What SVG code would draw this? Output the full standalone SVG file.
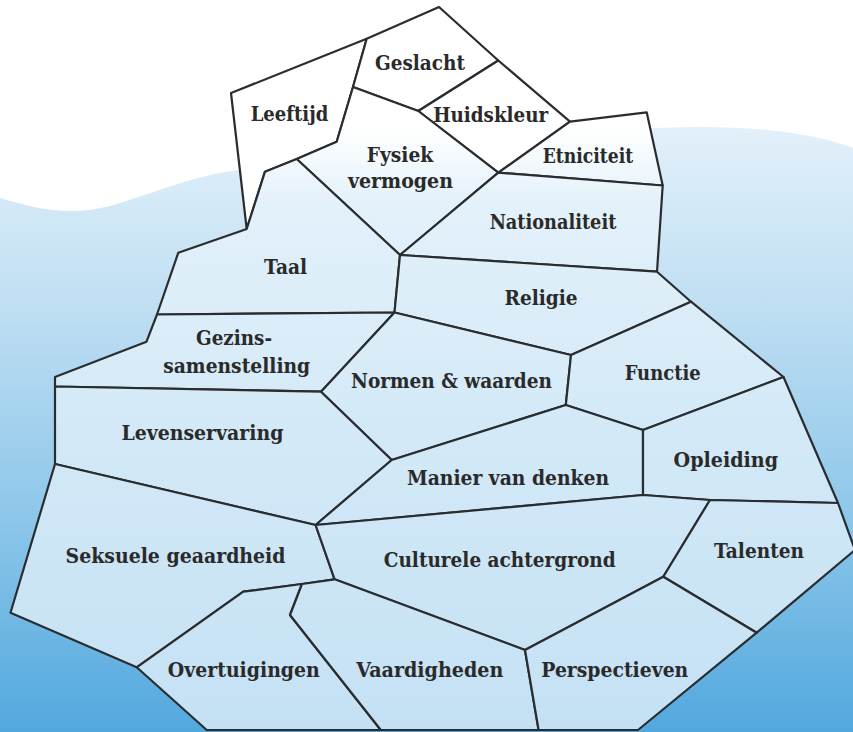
<svg xmlns="http://www.w3.org/2000/svg" width="853" height="732" viewBox="0 0 853 732">
<defs>
<linearGradient id="water" x1="0" y1="130" x2="0" y2="732" gradientUnits="userSpaceOnUse">
<stop offset="0" stop-color="#e2f0fa"/>
<stop offset="0.3" stop-color="#bedef2"/>
<stop offset="0.65" stop-color="#8cc6ea"/>
<stop offset="1" stop-color="#52a8de"/>
</linearGradient>
<linearGradient id="ice" x1="0" y1="130" x2="0" y2="732" gradientUnits="userSpaceOnUse">
<stop offset="0" stop-color="#ffffff"/>
<stop offset="0.12" stop-color="#e3f1fa"/>
<stop offset="0.5" stop-color="#d3e9f7"/>
<stop offset="1" stop-color="#c4e1f4"/>
</linearGradient>
<style>
.r{fill:url(#ice);stroke:#2a2d30;stroke-width:2.2;stroke-linejoin:round}
.w{fill:#ffffff}
text{font-family:"DejaVu Serif Condensed","DejaVu Serif",serif;font-weight:bold;font-size:19.5px;fill:#2a2a2a;text-anchor:middle}
</style>
</defs>
<rect width="853" height="732" fill="#ffffff"/>
<path d="M0,198 C40,210 70,216 110,206 C160,192 200,171 260,168 L640,129 C720,124 800,128 853,148 V732 H0 Z" fill="url(#water)"/>
<g id="connectors"></g>
<g id="leeftijd"><polygon class="r w" points="231,93 366.7,38.8 353,87 336.7,141.7 296.7,159 265,171.7 246.7,229"/><text x="289.5" y="120.5" textLength="77.6" lengthAdjust="spacingAndGlyphs">Leeftijd</text></g>
<g id="geslacht"><polygon class="r w" points="366.7,38.8 439,7 498.3,60.5 418.3,111 353,87"/><text x="420" y="70" textLength="90" lengthAdjust="spacingAndGlyphs">Geslacht</text></g>
<g id="huidskleur"><polygon class="r w" points="418.3,111 498.3,60.5 570,121.7 498.3,172.7"/><text x="490.7" y="121.5" textLength="115" lengthAdjust="spacingAndGlyphs">Huidskleur</text></g>
<g id="fysiek"><polygon class="r" points="353,87 418.3,111 498.3,172.7 400,255 296.7,159 336.7,141.7"/><text x="400" y="162" textLength="66.6" lengthAdjust="spacingAndGlyphs">Fysiek</text><text x="400.5" y="188" textLength="105" lengthAdjust="spacingAndGlyphs">vermogen</text></g>
<g id="etniciteit"><polygon class="r" points="570,121.7 646.7,112.3 662.7,185.5 498.3,172.7"/><text x="588" y="162.5" textLength="90.6" lengthAdjust="spacingAndGlyphs">Etniciteit</text></g>
<g id="nationaliteit"><polygon class="r" points="498.3,172.7 662.7,185.5 657,271.7 400,255"/><text x="553" y="229" textLength="126.7" lengthAdjust="spacingAndGlyphs">Nationaliteit</text></g>
<g id="taal"><polygon class="r" points="246.7,229 265,171.7 296.7,159 400,255 394.5,312.5 157,314.5 178.3,252.7"/><text x="285.6" y="274" textLength="43" lengthAdjust="spacingAndGlyphs">Taal</text></g>
<g id="religie"><polygon class="r" points="400,255 657,271.7 691,301.7 571,355 394.5,312.5"/><text x="541" y="305" textLength="73" lengthAdjust="spacingAndGlyphs">Religie</text></g>
<g id="gezinssamenstelling"><polygon class="r" points="157,314.5 394.5,312.5 321,391.7 55,386.5 55,377 146.5,341.7"/><text x="234" y="345" textLength="76" lengthAdjust="spacingAndGlyphs">Gezins-</text><text x="236.7" y="372.5" textLength="147" lengthAdjust="spacingAndGlyphs">samenstelling</text></g>
<g id="normen"><polygon class="r" points="394.5,312.5 571,355 565.8,405 391.7,460 321,391.7"/><text x="451.5" y="388.3" textLength="201" lengthAdjust="spacingAndGlyphs">Normen &amp; waarden</text></g>
<g id="functie"><polygon class="r" points="571,355 691,301.7 783.5,377 643,430 565.8,405"/><text x="662.7" y="380" textLength="76" lengthAdjust="spacingAndGlyphs">Functie</text></g>
<g id="levenservaring"><polygon class="r" points="55,386.5 321,391.7 391.7,460 315.6,525 55,464"/><text x="202.4" y="439.5" textLength="162" lengthAdjust="spacingAndGlyphs">Levenservaring</text></g>
<g id="manier"><polygon class="r" points="391.7,460 565.8,405 643,430 643,495 315.6,525"/><text x="508" y="485" textLength="202" lengthAdjust="spacingAndGlyphs">Manier van denken</text></g>
<g id="opleiding"><polygon class="r" points="643,430 783.5,377 838,503 710,500 643,495"/><text x="725.8" y="466.7" textLength="104.4" lengthAdjust="spacingAndGlyphs">Opleiding</text></g>
<g id="seksuele"><polygon class="r" points="55,464 315.6,525 334.6,579.3 302,584 243.3,591.7 136.7,667.3 10.5,612.7"/><text x="175.5" y="562.7" textLength="220" lengthAdjust="spacingAndGlyphs">Seksuele geaardheid</text></g>
<g id="culturele"><polygon class="r" points="315.6,525 643,495 710,500 663.3,576.7 525,650 334.6,579.3"/><text x="499.7" y="566.7" textLength="232" lengthAdjust="spacingAndGlyphs">Culturele achtergrond</text></g>
<g id="talenten"><polygon class="r" points="710,500 838,503 855,550 756.7,632.7 663.3,576.7"/><text x="759" y="558.3" textLength="90" lengthAdjust="spacingAndGlyphs">Talenten</text></g>
<g id="overtuigingen"><polygon class="r" points="136.7,667.3 243.3,591.7 302,584 290,615 380.8,730 206.7,730"/><text x="243.8" y="676.7" textLength="152" lengthAdjust="spacingAndGlyphs">Overtuigingen</text></g>
<g id="vaardigheden"><polygon class="r" points="302,584 334.6,579.3 525,650 538.6,730 380.8,730 290,615"/><text x="429.8" y="676.7" textLength="147" lengthAdjust="spacingAndGlyphs">Vaardigheden</text></g>
<g id="perspectieven"><polygon class="r" points="663.3,576.7 756.7,632.7 638,730 538.6,730 525,650"/><text x="614.8" y="676.7" textLength="147" lengthAdjust="spacingAndGlyphs">Perspectieven</text></g>
</svg>
